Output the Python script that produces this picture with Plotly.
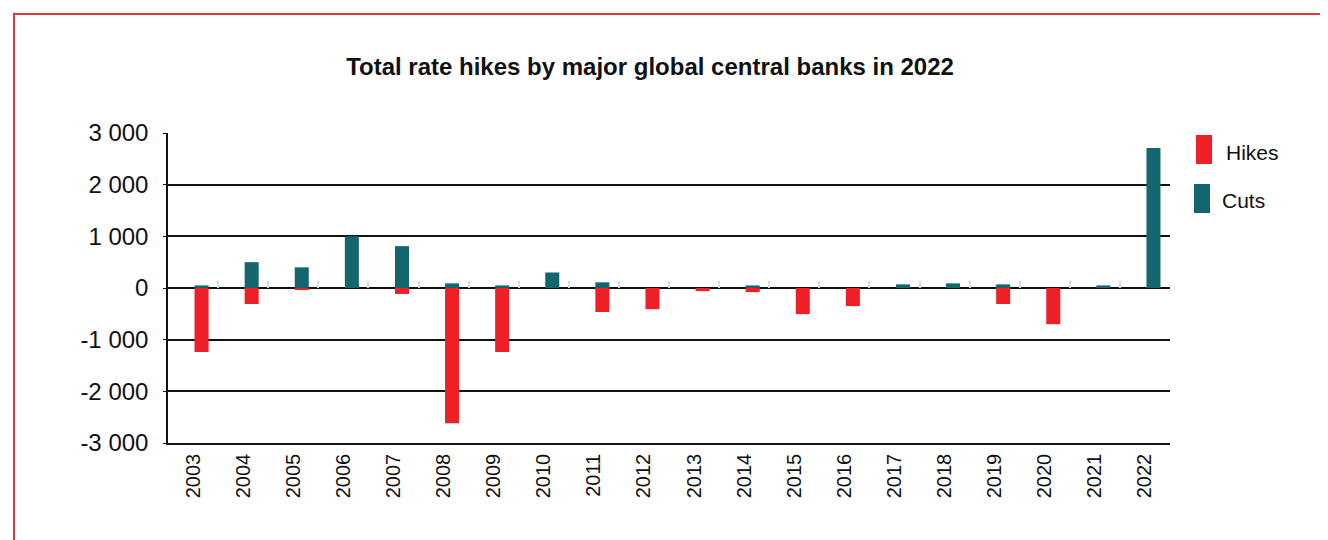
import plotly.graph_objects as go

years = [str(y) for y in range(2003, 2023)]
hikes = [-1240, -310, -25, 0, -115, -2620, -1240, 0, -465, -410, -60, -80, -505, -350, 0, 0, -310, -700, 0, 0]
cuts = [50, 500, 400, 1000, 810, 90, 50, 300, 110, 0, 0, 50, 0, 0, 70, 90, 70, 0, 50, 2710]
y_tick_vals = [3000, 2000, 1000, 0, -1000, -2000, -3000]
y_tick_text = ["3 000", "2 000", "1 000", "0", "-1 000", "-2 000", "-3 000"]

RED = "#ee1f27"
TEAL = "#13666e"
FONT = "Liberation Sans, Arial, sans-serif"

OFF = 8  # page body margin
W, H = 1328 - OFF, 540 - OFF
L, T = 168 - OFF, 133 - OFF
R = W - (1170 - OFF)
B = H - (443 - OFF)
pw, ph = W - L - R, H - T - B

def px(x):
    return (x - OFF - L) / pw

def py(y):
    return (H - B - (y - OFF)) / ph

fig = go.Figure()
fig.add_trace(go.Bar(x=years, y=hikes, name="Hikes", marker_color=RED,
                     marker_line_width=0, width=0.28, offset=0.03))
fig.add_trace(go.Bar(x=years, y=cuts, name="Cuts", marker_color=TEAL,
                     marker_line_width=0, width=0.28, offset=0.03))
# invisible trace to carry the category-boundary ticks along the zero line
fig.add_trace(go.Scatter(x=years, y=[0] * len(years), xaxis="x2", mode="markers",
                         marker=dict(opacity=0), hoverinfo="skip", showlegend=False))

fig.update_layout(
    width=W, height=H,
    margin=dict(l=L, r=R, t=T, b=B),
    paper_bgcolor="white", plot_bgcolor="white",
    barmode="overlay",
    showlegend=False,
    font=dict(family=FONT, color="#111111"),
    title=dict(text="<b>Total rate hikes by major global central banks in 2022</b>",
               x=(643 - OFF) / W, xanchor="center", xref="paper",
               y=1 - (67 - OFF) / H, yanchor="middle",
               font=dict(size=24, family=FONT, color="#111111")),
    xaxis=dict(type="category", categoryorder="array", categoryarray=years,
               tickangle=-90, tickfont=dict(size=20, family=FONT, color="#111111"),
               showgrid=False, showline=True, linecolor="#111111", linewidth=1.5,
               ticks="", ticklabelstandoff=1, range=[-0.5, len(years) - 0.5]),
    xaxis2=dict(type="category", categoryorder="array", categoryarray=years,
                overlaying="x", anchor="free", position=0.5, side="bottom",
                range=[-0.5, len(years) - 0.5], showgrid=False, showline=False,
                showticklabels=False, ticks="inside", tickson="boundaries",
                ticklen=7, tickwidth=1.5, tickcolor="#cfdfe3"),
    yaxis=dict(range=[-3000, 3000], tickvals=y_tick_vals, ticktext=y_tick_text,
               tickfont=dict(size=24, family=FONT, color="#111111"),
               showgrid=True, gridcolor="#111111", gridwidth=1.6,
               zeroline=True, zerolinecolor="#111111", zerolinewidth=1.8,
               showline=True, linecolor="#111111", linewidth=1.5,
               ticks="outside", ticklen=3, tickcolor="#111111", ticklabelstandoff=10),
)

shapes = [
    # outer red frame
    dict(type="rect", xref="paper", yref="paper",
         x0=px(14), x1=px(1328 + 20), y0=py(540 + 20), y1=py(14),
         line=dict(color="#e8333b", width=2), fillcolor="rgba(0,0,0,0)", layer="below"),
    # legend swatches
    dict(type="rect", xref="paper", yref="paper",
         x0=px(1196), x1=px(1212), y0=py(164), y1=py(135),
         line=dict(width=0), fillcolor=RED),
    dict(type="rect", xref="paper", yref="paper",
         x0=px(1194), x1=px(1210), y0=py(213), y1=py(184),
         line=dict(width=0), fillcolor=TEAL),
]
annotations = [
    dict(text="Hikes", xref="paper", yref="paper", x=px(1224), y=py(152),
         xanchor="left", yanchor="middle", showarrow=False,
         font=dict(size=21, family=FONT, color="#111111")),
    dict(text="Cuts", xref="paper", yref="paper", x=px(1220), y=py(200),
         xanchor="left", yanchor="middle", showarrow=False,
         font=dict(size=21, family=FONT, color="#111111")),
]
fig.update_layout(shapes=shapes, annotations=annotations)

fig.write_html("out.html")
